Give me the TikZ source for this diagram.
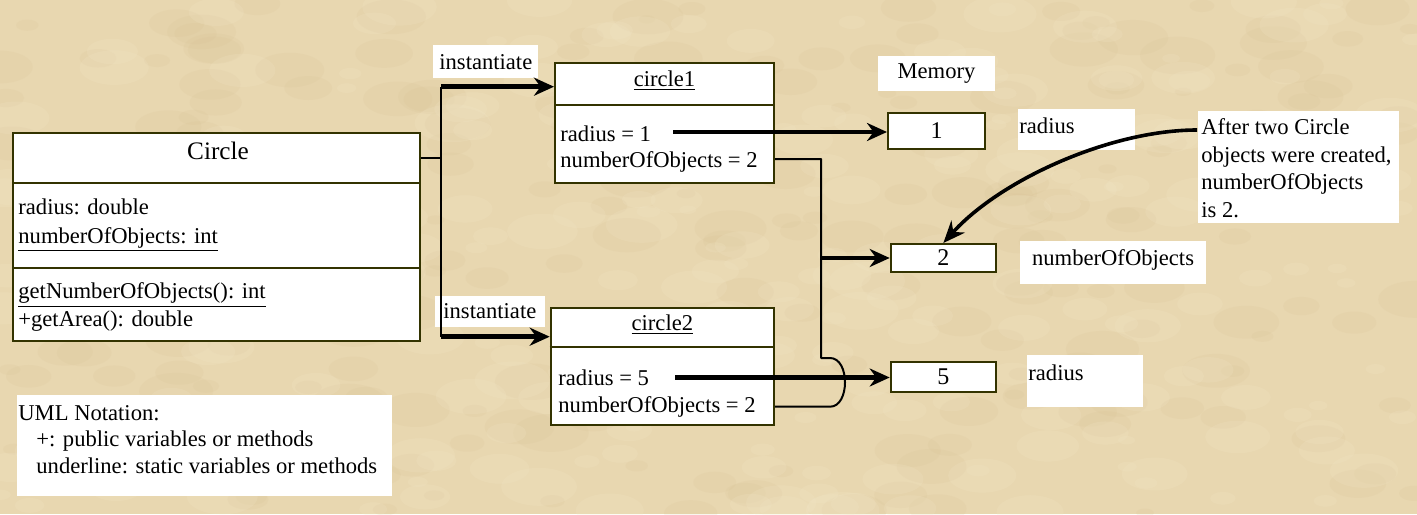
\documentclass[tikz,border=0pt]{standalone}
\usepackage{fontspec}
\setmainfont{Liberation Serif}
\usetikzlibrary{arrows.meta}
\definecolor{bgc}{RGB}{232,215,176}
\definecolor{bgdark}{RGB}{212,188,142}
\definecolor{bglight}{RGB}{244,233,202}
\definecolor{boxc}{RGB}{51,51,0}
\newcommand\fs{\fontsize{11.3}{14}\selectfont}
\newcommand\fsbig{\fontsize{12.6}{15}\selectfont}
\newcommand\fsdig{\fontsize{12}{14}\selectfont}
\begin{document}
\begin{tikzpicture}[x=0.5pt,y=-0.5pt,
  umlbox/.style={draw=boxc,line width=1pt,fill=white,rectangle,inner sep=0pt},
  membox/.style={draw=boxc,line width=1pt,fill=white,rectangle,inner sep=0pt,font=\fsdig},
  lbl/.style={fill=white,rectangle,inner sep=0pt,font=\fs},
  txt/.style={inner sep=0pt,anchor=base west,font=\fs},
  ctxt/.style={inner sep=0pt,anchor=base,font=\fs},
  thinline/.style={line width=1pt,draw=black},
  divline/.style={line width=1pt,draw=boxc},
  thickarrow/.style={line width=2.4pt,-{Stealth[length=10pt,width=9pt]}},
  curvearrow/.style={line width=1.8pt,-{Stealth[length=11pt,width=9pt]}}
]
\useasboundingbox (0,0) rectangle (1417,514);
\fill[bgc] (0,0) rectangle (1417,514);
\begin{scope}
\clip (0,0) rectangle (1417,514);
\pgfmathsetseed{7}
\foreach \i in {1,...,260}{
  \pgfmathsetmacro{\px}{rnd*1417}
  \pgfmathsetmacro{\py}{rnd*514}
  \pgfmathsetmacro{\pr}{8+rnd*30}
  \fill[bgdark,opacity=0.13] (\px,\py) ellipse ({\pr} and {0.5*\pr});
}
\foreach \i in {1,...,260}{
  \pgfmathsetmacro{\px}{rnd*1417}
  \pgfmathsetmacro{\py}{rnd*514}
  \pgfmathsetmacro{\pr}{8+rnd*30}
  \fill[bglight,opacity=0.18] (\px,\py) ellipse ({\pr} and {0.5*\pr});
}
\end{scope}

% Circle class
\node[umlbox,minimum width=203.35pt,minimum height=103.85pt] (circle) at (216.25,236.85) {};
\draw[divline] (circle.west |- 0,182.7) -- (circle.east |- 0,182.7);
\draw[divline] (circle.west |- 0,267.7) -- (circle.east |- 0,267.7);
\node[ctxt,font=\fsbig] (ctitle) at (218,159) {Circle};
\node[txt] (cr) at (18,214) {radius: double};
\node[txt] (cn) at (18,243) {\underline{numberOfObjects: int}};
\node[txt] (cg) at (18,298.5) {\underline{getNumberOfObjects(): int}};
\node[txt] (ca) at (18,326) {+getArea(): double};

% UML notation
\node[lbl,minimum width=187.4pt,minimum height=50.5pt] (uml) at (204.4,445.5) {};
\node[txt] (uml1) at (18,420) {UML Notation:};
\node[txt] (uml2) at (36,446) {+: public variables or methods};
\node[txt] (uml3) at (36,473) {underline: static variables or methods};

% circle1
\node[umlbox,minimum width=109.5pt,minimum height=59.85pt] (c1) at (664.5,122.85) {};
\draw[divline] (c1.west |- 0,105) -- (c1.east |- 0,105);
\node[ctxt] (c1t) at (664.5,86) {\underline{circle1}};
\node[txt] (c1r) at (560,141) {radius = 1};
\node[txt] (c1n) at (560,167) {numberOfObjects = 2};

% circle2
\node[umlbox,minimum width=111.65pt,minimum height=58.5pt] (c2) at (662.35,366.5) {};
\draw[divline] (c2.west |- 0,346.7) -- (c2.east |- 0,346.7);
\node[ctxt] (c2t) at (662.35,330) {\underline{circle2}};
\node[txt] (c2r) at (558,385) {radius = 5};
\node[txt] (c2n) at (558,412) {numberOfObjects = 2};

% instantiate labels
\node[lbl,minimum width=52.65pt,minimum height=16.5pt] (inst1box) at (485.35,61.5) {};
\node[txt] (inst1) at (439,69) {instantiate};
\node[lbl,minimum width=54.8pt,minimum height=15.5pt] (inst2box) at (489.8,311.5) {};
\node[txt] (inst2) at (443,318) {instantiate};

% Memory
\node[lbl,minimum width=58.5pt,minimum height=17.5pt] (memlbl) at (936.5,73.5) {Memory};
\node[membox,minimum width=48.5pt,minimum height=18pt] (mem1) at (936.5,131) {1};
\node[membox,minimum width=52.65pt,minimum height=13.85pt] (mem2) at (943.35,257.85) {2};
\node[membox,minimum width=52.65pt,minimum height=15pt] (mem5) at (943.35,376.7) {5};

% side labels
\node[lbl,minimum width=58.3pt,minimum height=20.5pt] (rad1box) at (1076.3,129.5) {};
\node[txt] (rad1) at (1019,133) {radius};
\node[lbl,minimum width=92.85pt,minimum height=21.5pt] (nobox) at (1112.85,262.5) {};
\node[txt] (nolbl) at (1031.7,265) {numberOfObjects};
\node[lbl,minimum width=58.15pt,minimum height=25.85pt] (rad5box) at (1084.85,380.85) {};
\node[txt] (rad5) at (1028,380) {radius};

% note
\node[lbl,minimum width=100.75pt,minimum height=56pt] (note) at (1298.25,167) {};
\node[txt] (note1) at (1201,134.5) {After two Circle};
\node[txt] (note2) at (1201,162) {objects were created,};
\node[txt] (note3) at (1201,189.5) {numberOfObjects};
\node[txt] (note4) at (1201,217) {is 2.};

% connectors
\coordinate (j) at (441,157.7);
\coordinate (jt) at (441,86.7);
\coordinate (jb) at (441,336.7);
\draw[thinline] (circle.east |- j) -- (j);
\draw[thinline] (jt) -- (jb);
\draw[thickarrow] (jt) -- (jt -| c1.west);
\draw[thickarrow] (jb) -- (jb -| c2.west);

\coordinate (r1s) at (673,132);
\draw[thickarrow] (r1s) -- (r1s -| mem1.west);
\coordinate (r5s) at (675,377.5);
\draw[thickarrow] (r5s) -- (r5s -| mem5.west);

\coordinate (n1s) at (c1.east |- 0,159);
\coordinate (n2s) at (c2.east |- 0,406.7);
\draw[thinline,line join=round] (n1s) -- (821,159) -- (821,358) -- (830,358)
  .. controls (850,358) and (850,406.7) .. (830,406.7) -- (n2s);
\coordinate (n2j) at (821,258);
\draw[thickarrow] (n2j) -- (n2j -| mem2.west);

\coordinate (ns) at (note.west |- 0,130);
\draw[curvearrow] (ns) .. controls (1110,130) and (1000,180) .. (mem2.north);
\end{tikzpicture}
\end{document}
